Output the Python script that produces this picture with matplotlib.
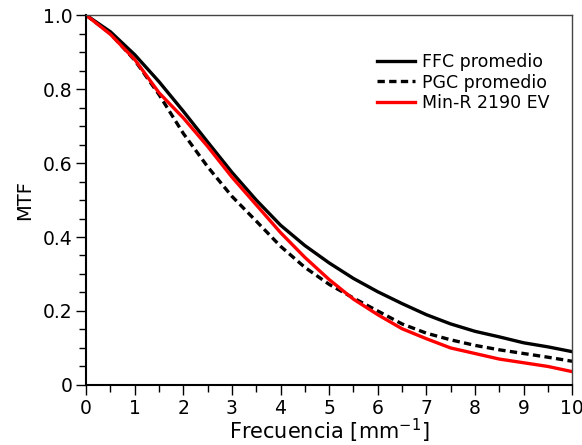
import numpy as np
import matplotlib
matplotlib.use("Agg")
import matplotlib.pyplot as plt
from matplotlib.ticker import MultipleLocator, FuncFormatter

# spatial frequency samples (mm^-1)
freq = [0, 0.5, 1, 1.5, 2, 2.5, 3, 3.5, 4, 4.5, 5, 5.5, 6, 6.5, 7, 7.5, 8, 8.5, 9, 9.5, 10]

# MTF curves
mtf_ffc = [1.0, 0.955, 0.893, 0.82, 0.74, 0.657, 0.575, 0.5, 0.432, 0.377, 0.33,
           0.288, 0.252, 0.22, 0.19, 0.165, 0.145, 0.13, 0.114, 0.103, 0.09]
mtf_pgc = [1.0, 0.95, 0.878, 0.785, 0.68, 0.59, 0.51, 0.443, 0.375, 0.318, 0.272,
           0.235, 0.2, 0.165, 0.14, 0.122, 0.107, 0.095, 0.085, 0.075, 0.064]
mtf_minr = [1.0, 0.948, 0.88, 0.79, 0.722, 0.645, 0.562, 0.487, 0.412, 0.345, 0.285,
            0.232, 0.19, 0.152, 0.125, 0.1, 0.085, 0.07, 0.06, 0.05, 0.036]

labels = ["FFC promedio", "PGC promedio", "Min-R 2190 EV"]

plt.rcParams['mathtext.default'] = 'regular'
plt.rcParams['font.family'] = ['DejaVu Sans']

fig = plt.figure(figsize=(5.82, 4.45), dpi=100)
ax = fig.add_axes([0.148, 0.135, 0.835, 0.831])

ax.plot(freq, mtf_ffc, color='black', lw=2.4, label=labels[0])
ax.plot(freq, mtf_pgc, color='black', lw=2.4, ls=(0, (2.2, 1.3)), label=labels[1])
ax.plot(freq, mtf_minr, color='#ff0000', lw=2.4, label=labels[2])

ax.set_xlim(0, 10)
ax.set_ylim(0, 1.0)
ax.xaxis.set_major_locator(MultipleLocator(1))
ax.xaxis.set_minor_locator(MultipleLocator(0.5))
ax.yaxis.set_major_locator(MultipleLocator(0.2))
ax.yaxis.set_minor_locator(MultipleLocator(0.05))
ax.yaxis.set_major_formatter(FuncFormatter(lambda v, p: "0" if abs(v) < 1e-9 else "%.1f" % v))

ax.tick_params(which='both', direction='out', top=False, right=False, labelsize=13.5, width=1)
ax.tick_params(which='major', length=7, pad=3)
ax.tick_params(which='minor', length=5)

for side in ['left', 'bottom']:
    ax.spines[side].set_linewidth(1.5)
for side in ['top', 'right']:
    ax.spines[side].set_linewidth(1.0)
    ax.spines[side].set_color('#444444')

ax.set_xlabel(r'Frecuencia [mm$^{-1}$]', fontsize=15, labelpad=-1)
ax.set_ylabel('MTF', fontsize=14, labelpad=6)

ax.legend(loc='upper right', bbox_to_anchor=(0.985, 0.94), frameon=False, fontsize=12.5,
          handlelength=2.2, labelspacing=0.15, handletextpad=0.4)

fig.savefig('out.png', dpi=100)
